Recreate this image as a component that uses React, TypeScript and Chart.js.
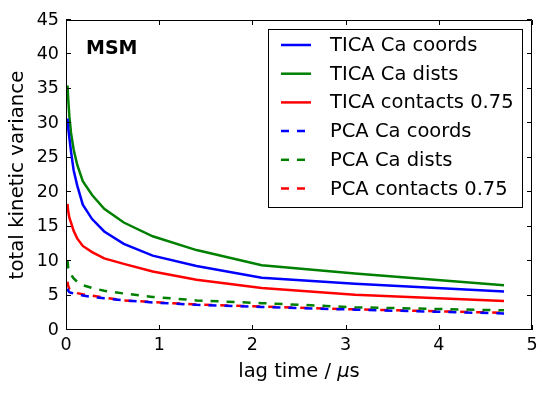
import React, { useEffect, useRef } from 'react';
import { Chart, registerables } from 'chart.js';

Chart.register(...registerables);

const lagTimes = [0.016, 0.024, 0.036, 0.054, 0.082, 0.12, 0.18, 0.28, 0.41, 0.62, 0.93, 1.4, 2.1, 3.1, 4.7];

const ticaCoords = [30.7, 29.3, 27.9, 25.9, 23.2, 21.0, 18.2, 16.1, 14.3, 12.5, 10.8, 9.3, 7.6, 6.7, 5.6];
const ticaDists = [35.5, 33.5, 31.0, 28.6, 26.2, 24.0, 21.6, 19.6, 17.6, 15.6, 13.6, 11.6, 9.4, 8.2, 6.5];
const ticaContacts = [18.3, 17.2, 16.3, 15.6, 14.4, 13.3, 12.2, 11.3, 10.4, 9.6, 8.5, 7.3, 6.1, 5.1, 4.2];
const pcaCoords = [6.0, 5.7, 5.5, 5.4, 5.3, 5.2, 5.0, 4.8, 4.6, 4.3, 4.0, 3.65, 3.35, 2.95, 2.4];
const pcaDists = [10.1, 9.0, 8.4, 8.0, 7.5, 7.0, 6.5, 6.1, 5.7, 5.3, 4.8, 4.3, 3.9, 3.3, 2.85];
const pcaContacts = [7.0, 6.4, 6.0, 5.8, 5.6, 5.35, 5.2, 5.0, 4.7, 4.3, 4.05, 3.7, 3.4, 3.0, 2.5];

const seriesLabels = [
  'TICA Ca coords',
  'TICA Ca dists',
  'TICA contacts 0.75',
  'PCA Ca coords',
  'PCA Ca dists',
  'PCA contacts 0.75',
];

const xTickValues = [0, 1, 2, 3, 4, 5];
const yTickValues = [0, 5, 10, 15, 20, 25, 30, 35, 40, 45];

const xTitle = ['lag time / ', 'μ', 's'];
const yTitle = 'total kinetic variance';
const panelLabel = 'MSM';

const FONT = '"DejaVu Sans", sans-serif';
const FS = 17.5;
const LFS = 19.5;

const toPoints = (ys: number[]) => lagTimes.map((x, i) => ({ x, y: ys[i] }));

const framePlugin = {
  id: 'frameAndTicks',
  afterDraw(chart: any) {
    const { ctx, chartArea } = chart;
    const { left, right, top, bottom } = chartArea;
    const xs = chart.scales.x;
    const ys = chart.scales.y;
    ctx.save();
    ctx.strokeStyle = '#000';
    ctx.lineWidth = 1;
    ctx.beginPath();
    ctx.rect(left + 0.5, top + 0.5, right - left - 1, bottom - top - 1);
    ctx.stroke();
    const tl = 5;
    ctx.beginPath();
    xs.ticks.forEach((t: any) => {
      const px = Math.round(xs.getPixelForValue(t.value)) + 0.5;
      ctx.moveTo(px, bottom);
      ctx.lineTo(px, bottom - tl);
      ctx.moveTo(px, top);
      ctx.lineTo(px, top + tl);
    });
    ys.ticks.forEach((t: any) => {
      const py = Math.round(ys.getPixelForValue(t.value)) - 0.5;
      ctx.moveTo(left, py);
      ctx.lineTo(left + tl, py);
      ctx.moveTo(right, py);
      ctx.lineTo(right - tl, py);
    });
    ctx.stroke();

    // panel label
    ctx.fillStyle = '#000';
    ctx.font = `bold 19px ${FONT}`;
    ctx.textBaseline = 'alphabetic';
    ctx.textAlign = 'left';
    ctx.fillText(panelLabel, left + 20, top + 34);

    // x title with italic mu
    ctx.font = `${LFS}px ${FONT}`;
    const w0 = ctx.measureText(xTitle[0]).width;
    ctx.font = `italic ${LFS}px ${FONT}`;
    const w1 = ctx.measureText(xTitle[1]).width;
    ctx.font = `${LFS}px ${FONT}`;
    const w2 = ctx.measureText(xTitle[2]).width;
    const total = w0 + w1 + w2;
    let cx = (left + right) / 2 - total / 2;
    const by = 377;
    ctx.fillText(xTitle[0], cx, by);
    cx += w0;
    ctx.font = `italic ${LFS}px ${FONT}`;
    ctx.fillText(xTitle[1], cx, by);
    cx += w1;
    ctx.font = `${LFS}px ${FONT}`;
    ctx.fillText(xTitle[2], cx, by);

    // legend
    const bx = 268.5, byTop = 29.5, bw = 254, bh = 178;
    ctx.fillStyle = '#fff';
    ctx.fillRect(bx, byTop, bw, bh);
    ctx.strokeStyle = '#000';
    ctx.lineWidth = 1;
    ctx.strokeRect(bx, byTop, bw, bh);
    const rowY0 = 45;
    const rowStep = 28.7;
    chart.data.datasets.forEach((ds: any, i: number) => {
      const y = rowY0 + i * rowStep;
      ctx.strokeStyle = ds.borderColor;
      ctx.lineWidth = ds.borderWidth;
      ctx.setLineDash(ds.borderDash || []);
      ctx.lineCap = 'butt';
      ctx.beginPath();
      ctx.moveTo(281, y);
      ctx.lineTo(311, y);
      ctx.stroke();
      ctx.setLineDash([]);
      ctx.fillStyle = '#000';
      ctx.font = `${LFS}px ${FONT}`;
      ctx.textBaseline = 'middle';
      ctx.fillText(ds.label, 330, y + 1);
    });
    ctx.restore();
  },
};

export default function App() {
  const canvasRef = useRef<HTMLCanvasElement | null>(null);

  useEffect(() => {
    document.body.style.margin = '0';
    const canvas = canvasRef.current;
    if (!canvas) return;
    const colors = ['#0000ff', '#008000', '#ff0000', '#0000ff', '#008000', '#ff0000'];
    const seriesData = [ticaCoords, ticaDists, ticaContacts, pcaCoords, pcaDists, pcaContacts];
    const chart = new Chart(canvas, {
      type: 'line',
      data: {
        datasets: seriesData.map((d, i) => ({
          label: seriesLabels[i],
          data: toPoints(d),
          borderColor: colors[i],
          backgroundColor: colors[i],
          borderWidth: 2.5,
          borderDash: i >= 3 ? [8, 8] : [],
          borderCapStyle: 'butt',
          pointRadius: 0,
          tension: 0,
          fill: false,
        })),
      },
      options: {
        animation: false,
        responsive: false,
        devicePixelRatio: 1,
        layout: { padding: { top: 20, right: 15, left: 0, bottom: 0 } },
        plugins: {
          legend: { display: false },
          tooltip: { enabled: false },
        },
        scales: {
          x: {
            type: 'linear',
            min: 0,
            max: 5,
            afterFit: (s: any) => { s.height = 64; },
            afterBuildTicks: (s: any) => { s.ticks = xTickValues.map((v) => ({ value: v })); },
            grid: { display: false, drawTicks: false },
            border: { display: false },
            ticks: {
              padding: 5,
              color: '#000',
              font: { family: FONT, size: FS },
              maxRotation: 0,
            },
          },
          y: {
            type: 'linear',
            min: 0,
            max: 45,
            afterFit: (s: any) => { s.width = 66; },
            afterBuildTicks: (s: any) => { s.ticks = yTickValues.map((v) => ({ value: v })); },
            grid: { display: false, drawTicks: false },
            border: { display: false },
            ticks: {
              padding: 7,
              color: '#000',
              font: { family: FONT, size: FS },
            },
            title: {
              display: true,
              text: yTitle,
              color: '#000',
              font: { family: FONT, size: 19.8 },
              padding: { top: 6, bottom: 0 },
            },
          },
        },
      },
      plugins: [framePlugin],
    });
    return () => chart.destroy();
  }, []);

  return (
    <div style={{ position: 'absolute', left: 0, top: 0, width: 547, height: 394 }}>
      <canvas ref={canvasRef} width={547} height={394} />
    </div>
  );
}
